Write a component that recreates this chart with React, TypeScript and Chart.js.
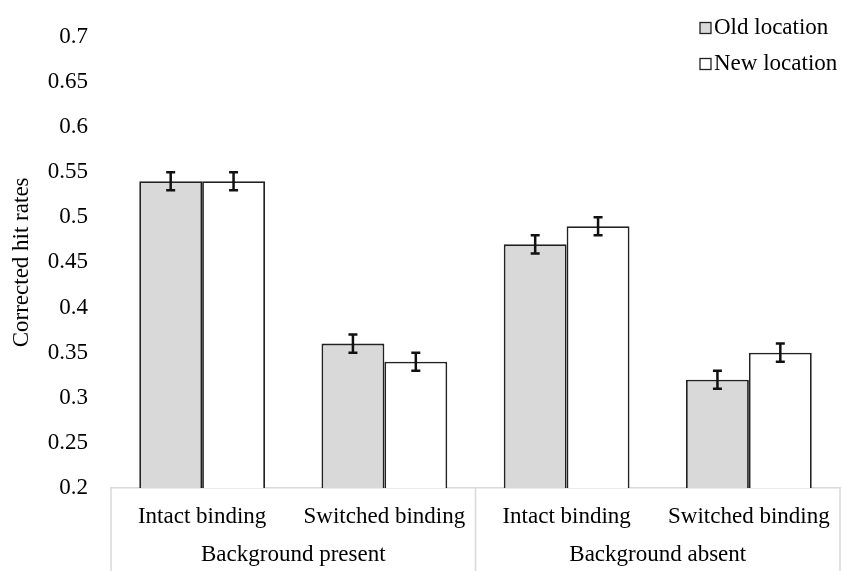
import React, { useEffect, useRef } from "react";
import { Chart, registerables } from "chart.js";

Chart.register(...registerables);

const categories = ["Intact binding", "Switched binding", "Intact binding", "Switched binding"];
const groups = ["Background present", "Background absent"];
const oldLocation = [0.54, 0.36, 0.47, 0.32];
const newLocation = [0.54, 0.34, 0.49, 0.35];
const oldError = [0.01, 0.01, 0.01, 0.01];
const newError = [0.01, 0.01, 0.01, 0.01];
const seriesNames = ["Old location", "New location"];

const FONT = '"Liberation Serif", "Times New Roman", serif';
const SEP = "#d9d9d9";
const FS = 23;

const overlay = {
  id: "overlay",
  afterDatasetsDraw(chart: any) {
    const ctx = chart.ctx;
    const errs = [oldError, newError];
    ctx.save();
    ctx.strokeStyle = "#111";
    ctx.lineWidth = 2.5;
    const y = chart.scales.y;
    chart.data.datasets.forEach((ds: any, di: number) => {
      const meta = chart.getDatasetMeta(di);
      meta.data.forEach((bar: any, i: number) => {
        const v = ds.data[i];
        const e = errs[di][i];
        const x = bar.x;
        const yt = y.getPixelForValue(v + e);
        const yb = y.getPixelForValue(v - e);
        ctx.beginPath();
        ctx.moveTo(x, yt);
        ctx.lineTo(x, yb);
        ctx.moveTo(x - 4.5, yt);
        ctx.lineTo(x + 4.5, yt);
        ctx.moveTo(x - 4.5, yb);
        ctx.lineTo(x + 4.5, yb);
        ctx.stroke();
      });
    });
    ctx.restore();
  },
  afterDraw(chart: any) {
    const ctx = chart.ctx;
    const xs = chart.scales.x;
    const area = chart.chartArea;
    ctx.save();
    ctx.strokeStyle = SEP;
    ctx.lineWidth = 1.5;
    const left = area.left;
    const right = area.right;
    const mid = (left + right) / 2;
    [left, mid, right].forEach((px) => {
      ctx.beginPath();
      ctx.moveTo(px, area.bottom);
      ctx.lineTo(px, chart.height);
      ctx.stroke();
    });
    ctx.fillStyle = "#000";
    ctx.font = `${FS}px ${FONT}`;
    ctx.textAlign = "center";
    ctx.textBaseline = "middle";
    categories.forEach((c, i) => {
      ctx.fillText(c, xs.getPixelForValue(i), area.bottom + 29);
    });
    groups.forEach((g, i) => {
      const cx = (xs.getPixelForValue(i * 2) + xs.getPixelForValue(i * 2 + 1)) / 2;
      ctx.fillText(g, cx, area.bottom + 67);
    });
    const fills = ["#d9d9d9", "#ffffff"];
    ctx.textAlign = "left";
    seriesNames.forEach((n, i) => {
      const cy = 28 + i * 36;
      ctx.fillStyle = fills[i];
      ctx.fillRect(700, cy - 5.5, 11, 11);
      ctx.strokeStyle = "#222";
      ctx.lineWidth = 1.3;
      ctx.strokeRect(700, cy - 5.5, 11, 11);
      ctx.fillStyle = "#000";
      ctx.fillText(n, 714, cy);
    });
    ctx.restore();
  },
};

export default function App() {
  const ref = useRef<HTMLCanvasElement>(null);
  useEffect(() => {
    const chart = new Chart(ref.current!, {
      type: "bar",
      data: {
        labels: categories,
        datasets: [
          {
            label: seriesNames[0],
            data: oldLocation,
            backgroundColor: "#d9d9d9",
            borderColor: "#222",
            borderWidth: 1.8,
            categoryPercentage: 0.69,
            barPercentage: 1,
          },
          {
            label: seriesNames[1],
            data: newLocation,
            backgroundColor: "#ffffff",
            borderColor: "#222",
            borderWidth: 1.8,
            categoryPercentage: 0.69,
            barPercentage: 1,
          },
        ],
      },
      options: {
        responsive: false,
        animation: false,
        layout: { padding: { top: 22, right: 3, left: 0, bottom: 0 } },
        plugins: { legend: { display: false }, tooltip: { enabled: false } },
        scales: {
          x: {
            grid: { display: false, drawTicks: false },
            border: { display: true, color: SEP, width: 1.5 },
            ticks: { display: false },
            afterFit: (s: any) => {
              s.height = 83;
            },
          },
          y: {
            min: 0.2,
            max: 0.7,
            grid: { display: false, drawTicks: false },
            border: { display: false },
            ticks: {
              stepSize: 0.05,
              padding: 23,
              color: "#000",
              font: { family: FONT, size: FS },
              callback: (v: any) => String(Math.round(Number(v) * 100) / 100),
            },
            title: {
              display: true,
              text: "Corrected hit rates",
              color: "#000",
              font: { family: FONT, size: FS },
              padding: { top: 8, bottom: 0 },
            },
            afterFit: (s: any) => {
              s.width = 111;
            },
          },
        },
      },
      plugins: [overlay],
    });
    return () => chart.destroy();
  }, []);
  return (
    <div style={{ position: "fixed", left: 0, top: 0, width: 843, height: 571, background: "#fff" }}>
      <canvas ref={ref} width={843} height={571} />
    </div>
  );
}
